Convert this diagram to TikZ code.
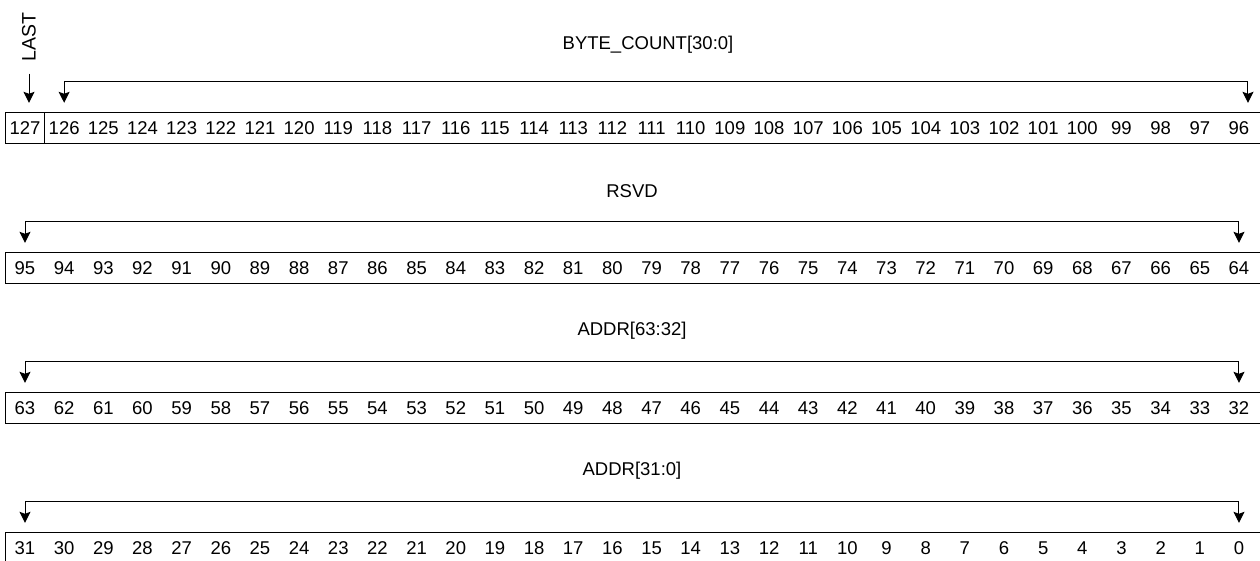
\documentclass[tikz,border=0pt]{standalone}
\usepackage{fontspec}
\setmainfont{Liberation Sans}
\usetikzlibrary{arrows.meta}

\tikzset{
  bitcell/.style={minimum width=39.16pt, minimum height=30pt, inner sep=0pt},
  frame/.style={line width=1pt},
  bracket/.style={line width=1pt, {Stealth[length=11pt,width=11pt,inset=2pt]}-{Stealth[length=11pt,width=11pt,inset=2pt]}},
  arr/.style={line width=1pt, -{Stealth[length=11pt,width=11pt,inset=2pt]}}
}

\begin{document}
\begin{tikzpicture}[x=1pt, y=-1pt, font=\fontsize{18.5}{21}\selectfont]
    \useasboundingbox (0,0) rectangle (1260,560);
    \clip (0,0) rectangle (1260,560);

    % four rows of 32 bit numbers
    \foreach \r/\rowy in {1/113, 2/253, 3/393, 4/533} {
        \foreach \k in {0,...,31} {
            \pgfmathtruncatemacro{\bit}{127-32*(\r-1)-\k}
            \node[bitcell] (r\r-\k) at ({25+39.16*\k}, {\rowy+15}) {\bit};
        }
        \draw[frame] ([xshift=6pt]r\r-31.north east) -- (r\r-0.north west) -- (r\r-0.south west) -- ([xshift=6pt]r\r-31.south east);
    }
    \draw[line width=1.3pt] (r1-0.north east) -- (r1-0.south east);

    % field brackets
    \draw[bracket] ([yshift=10pt]r1-1.north) -- ++(0,-21) -| ([xshift=9pt,yshift=10pt]r1-31.north);
    \foreach \r in {2,3,4}
        \draw[bracket] ([yshift=10pt]r\r-0.north) -- ++(0,-21) -| ([yshift=10pt]r\r-31.north);

    % field names
    \node (bytecount) at (648,45) {BYTE\_COUNT[30:0]};
    \node (rsvd) at (632,191) {RSVD};
    \node (addrhi) at (632,331) {ADDR[63:32]};
    \node (addrlo) at (632,471) {ADDR[31:0]};

    % single bit
    \node[rotate=90, inner sep=0pt, font=\fontsize{19.5}{22}\selectfont] (last) at (29,37) {LAST};
    \coordinate (lasttip) at ([yshift=10pt]r1-0.north);
    \draw[arr] ([yshift=-12pt]last.west) -- (last.west |- lasttip);
\end{tikzpicture}
\end{document}
